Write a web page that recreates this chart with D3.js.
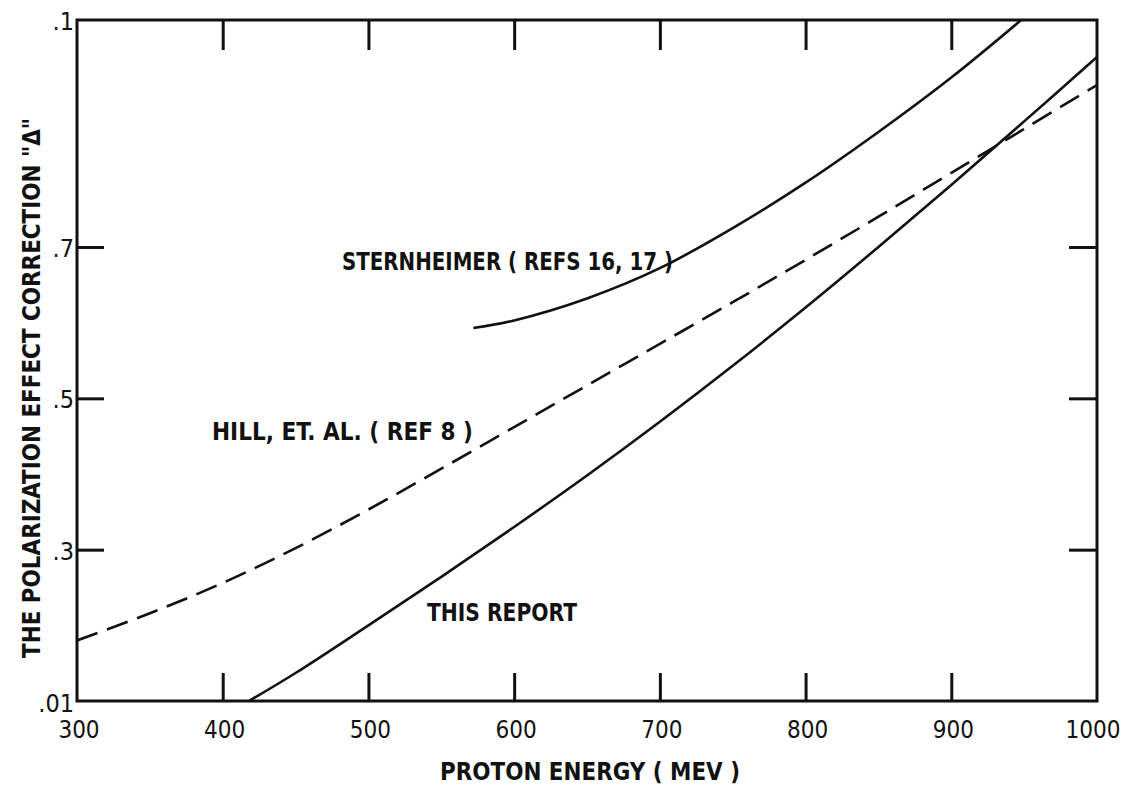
<!DOCTYPE html>
<html>
<head>
<meta charset="utf-8">
<script src="https://cdn.jsdelivr.net/npm/d3@7"></script>
<style>
  html, body { margin: 0; padding: 0; background: #fff; }
  svg { display: block; }
  text { fill: #111; font-family: "DejaVu Sans Condensed", "DejaVu Sans", sans-serif; }
</style>
</head>
<body>
<svg id="chart" width="1130" height="796"></svg>
<script>
// Proton energy (MeV) and polarization effect correction for each curve
const thisReportEnergy = [418, 450, 500, 550, 600, 650, 700, 750, 800, 850, 900, 950, 1000];
const thisReportDelta  = [0.100, 0.137, 0.200, 0.264, 0.330, 0.398, 0.469, 0.543, 0.620, 0.700, 0.782, 0.866, 0.951];

const hillEnergy = [300, 350, 400, 450, 500, 550, 600, 650, 700, 750, 800, 850, 900, 950, 1000];
const hillDelta  = [0.180, 0.216, 0.256, 0.302, 0.353, 0.407, 0.462, 0.517, 0.572, 0.627, 0.683, 0.740, 0.798, 0.856, 0.914];

const sternEnergy = [572, 600, 650, 700, 750, 800, 850, 900, 948];
const sternDelta  = [0.593, 0.603, 0.632, 0.672, 0.725, 0.785, 0.852, 0.924, 1.000];

// Axis ticks and their printed labels
const xTickValues = [300, 400, 500, 600, 700, 800, 900, 1000];
const xTickLabels = ["300", "400", "500", "600", "700", "800", "900", "1000"];
const yTickValues = [0.1, 0.3, 0.5, 0.7, 1.0];
const yTickLabels = [".01", ".3", ".5", ".7", ".1"];

const curveLabels = ["STERNHEIMER ( REFS 16, 17 )", "HILL, ET. AL. ( REF 8 )", "THIS REPORT"];
const xTitle = "PROTON ENERGY ( MEV )";
const yTitle = "THE POLARIZATION EFFECT CORRECTION \"\u0394\"";

const svg = d3.select("#chart");
const plotLeft = 77, plotRight = 1097, plotTop = 20, plotBottom = 701;

const x = d3.scaleLinear().domain([300, 1000]).range([plotLeft, plotRight]);
const y = d3.scaleLinear().domain([0.1, 1.0]).range([plotBottom, plotTop]);

const ink = "#111";

// frame
svg.append("rect")
  .attr("x", plotLeft).attr("y", plotTop)
  .attr("width", plotRight - plotLeft).attr("height", plotBottom - plotTop)
  .attr("fill", "none").attr("stroke", ink).attr("stroke-width", 3);

const innerX = xTickValues.slice(1, -1);
const innerY = yTickValues.slice(1, -1);

// inward ticks on all four sides
const axTop = d3.axisBottom(x).tickValues(innerX).tickSize(30).tickFormat("");
const axBottom = d3.axisTop(x).tickValues(innerX).tickSize(28).tickFormat("");
const axLeft = d3.axisRight(y).tickValues(innerY).tickSize(27).tickFormat("");
const axRight = d3.axisLeft(y).tickValues(innerY).tickSize(28).tickFormat("");

function styleTicks(g) {
  g.select(".domain").remove();
  g.selectAll(".tick line").attr("stroke", ink).attr("stroke-width", 3);
}
svg.append("g").attr("transform", `translate(0,${plotTop})`).call(axTop).call(styleTicks);
svg.append("g").attr("transform", `translate(0,${plotBottom})`).call(axBottom).call(styleTicks);
svg.append("g").attr("transform", `translate(${plotLeft},0)`).call(axLeft).call(styleTicks);
svg.append("g").attr("transform", `translate(${plotRight},0)`).call(axRight).call(styleTicks);

// tick labels
svg.append("g").selectAll("text").data(xTickValues).join("text")
  .attr("x", (d, i) => x(d) + (i === xTickValues.length - 1 ? -4 : 2))
  .attr("y", 738)
  .attr("text-anchor", "middle")
  .attr("font-size", 24)
  .text((d, i) => xTickLabels[i]);

svg.append("g").selectAll("text").data(yTickValues).join("text")
  .attr("x", plotLeft - 3)
  .attr("y", (d, i) => y(d) + (i === 0 ? 11 : 10))
  .attr("text-anchor", "end")
  .attr("font-size", 25)
  .text((d, i) => yTickLabels[i]);

// axis titles
svg.append("text")
  .attr("x", 590).attr("y", 780)
  .attr("text-anchor", "middle")
  .attr("font-size", 24).attr("font-weight", "bold")
  .attr("textLength", 300).attr("lengthAdjust", "spacingAndGlyphs")
  .text(xTitle);

svg.append("text")
  .attr("transform", "translate(40,388) rotate(-90)")
  .attr("text-anchor", "middle")
  .attr("font-size", 24).attr("font-weight", "bold")
  .attr("textLength", 540).attr("lengthAdjust", "spacingAndGlyphs")
  .text(yTitle);

// curves
const line = d3.line()
  .x(d => x(d[0]))
  .y(d => y(d[1]))
  .curve(d3.curveCatmullRom.alpha(0.5));

svg.append("clipPath").attr("id", "plot-area")
  .append("rect").attr("x", plotLeft).attr("y", plotTop)
  .attr("width", plotRight - plotLeft).attr("height", plotBottom - plotTop);

const plot = svg.append("g").attr("clip-path", "url(#plot-area)");

plot.append("path")
  .datum(d3.zip(thisReportEnergy, thisReportDelta))
  .attr("d", line)
  .attr("fill", "none").attr("stroke", ink).attr("stroke-width", 2.6);

plot.append("path")
  .datum(d3.zip(hillEnergy, hillDelta))
  .attr("d", line)
  .attr("fill", "none").attr("stroke", ink).attr("stroke-width", 2.6)
  .attr("stroke-dasharray", "22,10");

plot.append("path")
  .datum(d3.zip(sternEnergy, sternDelta))
  .attr("d", line)
  .attr("fill", "none").attr("stroke", ink).attr("stroke-width", 2.6);

// curve labels
svg.append("text")
  .attr("x", 342).attr("y", 270)
  .attr("font-size", 24).attr("font-weight", "bold")
  .attr("textLength", 331).attr("lengthAdjust", "spacingAndGlyphs")
  .text(curveLabels[0]);

svg.append("text")
  .attr("x", 212).attr("y", 440)
  .attr("font-size", 24).attr("font-weight", "bold")
  .attr("textLength", 261).attr("lengthAdjust", "spacingAndGlyphs")
  .text(curveLabels[1]);

svg.append("text")
  .attr("x", 427).attr("y", 621)
  .attr("font-size", 24).attr("font-weight", "bold")
  .attr("textLength", 150).attr("lengthAdjust", "spacingAndGlyphs")
  .text(curveLabels[2]);
</script>
</body>
</html>
